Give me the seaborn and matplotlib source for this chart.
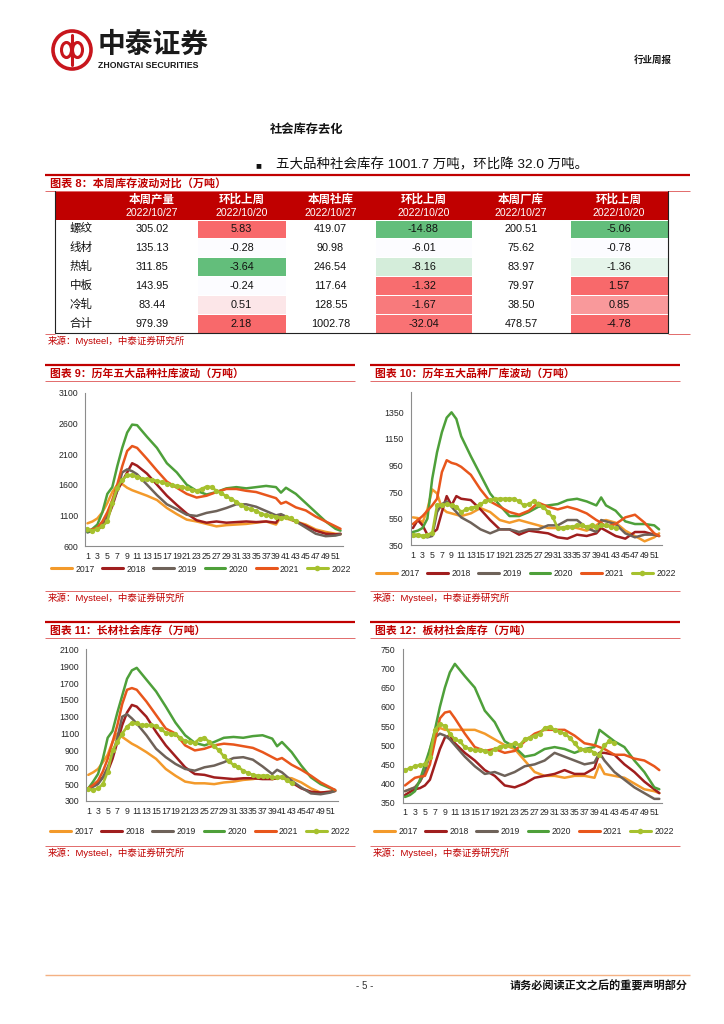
import matplotlib
matplotlib.use('Agg')
import matplotlib.pyplot as plt
from matplotlib.patches import Rectangle, Circle, Ellipse
from matplotlib.lines import Line2D
import seaborn as sns
import pandas as pd

W, H = 724, 1024
RED = '#C00000'
THIN_RED = '#E26B6B'

# ---------------- data ----------------
years = ['2017', '2018', '2019', '2020', '2021', '2022']
line_colors = ['#F39A2B', '#A01E1E', '#6E6259', '#4EA03A', '#E8561C', '#A6C12E']

# weeks read for the history years, and weeks of 2022 so far
hist_weeks = [1, 2, 3, 4, 5, 6, 7, 8, 9, 10, 11, 13, 15, 17, 19, 21, 23, 25, 27,
              29, 31, 33, 35, 37, 39, 40, 41, 43, 45, 47, 49, 51, 52]
weeks_2022 = list(range(1, 44))

# chart 9: social inventory of five products
soc_2017 = [970, 1000, 1050, 1150, 1300, 1480, 1600, 1610, 1550, 1510, 1480, 1420, 1350, 1220, 1120, 1030, 1000,
            960, 920, 940, 950, 960, 980, 1000, 950, 1080, 1050, 1000, 950, 870, 830, 800, 790]
soc_2018 = [850, 860, 870, 920, 1050, 1250, 1500, 1650, 1800, 1950, 1910, 1780, 1600, 1420, 1270, 1130, 1020,
            980, 1000, 980, 990, 1000, 990, 1000, 980, 1100, 1080, 1000, 930, 850, 800, 790, 800]
soc_2019 = [820, 850, 900, 980, 1100, 1300, 1500, 1800, 1850, 1820, 1770, 1600, 1430, 1280, 1200, 1110, 1090,
            1140, 1170, 1220, 1280, 1280, 1240, 1170, 1100, 1120, 1080, 1000, 900, 800, 760, 770, 790]
soc_2020 = [830, 880, 950, 1150, 1450, 1560, 1900, 2200, 2450, 2580, 2570, 2380, 2200, 1950, 1800, 1600, 1500,
            1440, 1480, 1540, 1560, 1540, 1560, 1580, 1560, 1470, 1550, 1450, 1300, 1150, 1000, 880, 850]
soc_2021 = [850, 870, 900, 1000, 1150, 1350, 1600, 1900, 2150, 2230, 2200, 2020, 1830, 1650, 1550, 1450, 1390,
            1420, 1480, 1530, 1530, 1500, 1480, 1430, 1380, 1290, 1320, 1230, 1180, 1080, 1000, 920, 880]
soc_2022 = [870, 850, 880, 920, 1000, 1300, 1550, 1680, 1750, 1760, 1720, 1700, 1690, 1680, 1660, 1640, 1610,
            1590, 1580, 1570, 1540, 1510, 1500, 1530, 1570, 1560, 1500, 1460, 1410, 1370, 1320, 1270, 1220,
            1200, 1170, 1130, 1100, 1090, 1080, 1060, 1070, 1050, 1000]

# chart 10: factory inventory of five products
fac_2017 = [560, 555, 520, 620, 770, 740, 630, 600, 590, 580, 570, 590, 630, 600, 540, 520, 540,
            520, 500, 480, 480, 490, 480, 460, 500, 530, 540, 520, 460, 420, 380, 410, 440]
fac_2018 = [480, 540, 500, 430, 440, 470, 600, 720, 650, 720, 700, 690, 620, 540, 470, 470, 430,
            460, 450, 440, 410, 400, 430, 420, 440, 480, 460, 420, 400, 450, 450, 430, 420]
fac_2019 = [420, 420, 420, 410, 420, 600, 660, 680, 640, 600, 560, 520, 470, 440, 470, 470, 450,
            470, 470, 500, 500, 540, 540, 480, 450, 540, 530, 510, 440, 410, 430, 430, 420]
fac_2020 = [450, 460, 480, 550, 850, 1050, 1200, 1310, 1350, 1300, 1170, 1020, 880, 740, 650, 570, 570,
            600, 640, 650, 660, 690, 700, 680, 650, 710, 650, 610, 530, 510, 510, 500, 470]
fac_2021 = [510, 540, 570, 610, 650, 700, 900, 990, 970, 960, 940, 880, 770, 680, 640, 600, 580,
            610, 670, 640, 620, 640, 620, 590, 540, 520, 490, 510, 560, 580, 520, 440, 420]
fac_2022 = [430, 430, 420, 430, 440, 650, 650, 660, 650, 640, 600, 620, 630, 640, 660, 680, 690,
            700, 700, 700, 700, 700, 680, 650, 660, 680, 660, 640, 600, 560, 480, 480, 490,
            490, 500, 500, 490, 500, 490, 500, 500, 490, 480]

# chart 11: long products social inventory
long_2017 = [610, 640, 680, 760, 850, 1000, 1100, 1060, 1020, 980, 950, 880, 800, 680, 600, 530, 510,
             510, 500, 520, 530, 550, 560, 580, 560, 570, 580, 570, 520, 450, 400, 410, 420]
long_2018 = [450, 480, 520, 580, 650, 800, 1000, 1200, 1350, 1440, 1420, 1300, 1120, 960, 830, 700, 620,
             610, 580, 570, 560, 570, 570, 560, 560, 570, 580, 520, 450, 410, 400, 410, 420]
long_2019 = [440, 470, 500, 580, 700, 850, 1050, 1300, 1330, 1280, 1220, 1080, 920, 820, 740, 680, 660,
             700, 720, 760, 810, 820, 790, 710, 620, 670, 640, 540, 460, 390, 380, 400, 420]
long_2020 = [450, 530, 620, 800, 1050, 1130, 1350, 1550, 1750, 1850, 1880, 1740, 1600, 1420, 1230, 1080, 990,
             960, 1000, 1050, 1060, 1050, 1070, 1080, 1040, 950, 1000, 880, 720, 580, 500, 450, 430]
long_2021 = [450, 490, 540, 650, 800, 1000, 1200, 1450, 1620, 1640, 1620, 1480, 1320, 1160, 1100, 960, 900,
             920, 960, 980, 970, 950, 930, 880, 820, 790, 810, 730, 670, 600, 520, 460, 430]
long_2022 = [440, 430, 450, 500, 650, 900, 1000, 1100, 1180, 1230, 1220, 1200, 1200, 1200, 1190, 1150, 1110,
             1100, 1090, 1050, 1010, 1000, 990, 1040, 1050, 1000, 950, 900, 830, 770, 730, 700, 660,
             630, 610, 600, 600, 600, 580, 580, 590, 550, 510]

# chart 12: plate social inventory
plate_2017 = [380, 385, 390, 405, 430, 490, 530, 545, 540, 540, 540, 540, 540, 530, 515, 500, 490,
              460, 430, 420, 420, 415, 420, 420, 415, 450, 425, 420, 415, 400, 385, 380, 375]
plate_2018 = [370, 378, 385, 388, 395, 410, 450, 490, 520, 525, 505, 480, 460, 435, 420, 395, 390,
              400, 415, 420, 425, 435, 425, 425, 440, 480, 480, 475, 450, 430, 405, 385, 375]
plate_2019 = [380, 385, 390, 405, 430, 480, 520, 530, 525, 515, 500, 470, 445, 425, 430, 420, 430,
              445, 450, 460, 480, 470, 460, 450, 455, 480, 460, 430, 410, 390, 375, 360, 360]
plate_2020 = [365, 370, 380, 410, 450, 490, 540, 600, 650, 690, 712, 680, 650, 590, 560, 510, 495,
              470, 475, 490, 495, 490, 480, 490, 495, 540, 530, 510, 495, 460, 430, 390, 385]
plate_2021 = [395, 405, 415, 418, 420, 450, 510, 570, 585, 588, 570, 530, 495, 485, 490, 480, 485,
              510, 530, 540, 540, 540, 525, 505, 500, 495, 490, 475, 475, 465, 460, 445, 435]
plate_2022 = [435, 440, 445, 448, 450, 470, 540, 555, 550, 530, 515, 510, 495, 490, 487, 487, 485,
              480, 490, 495, 498, 500, 505, 500, 515, 520, 525, 530, 545, 548, 540, 535, 530,
              520, 505, 490, 488, 488, 480, 475, 500, 510, 505]

# table 8
row_names = ['螺纹', '线材', '热轧', '中板', '冷轧', '合计']
col_heads = ['本周产量', '环比上周', '本周社库', '环比上周', '本周厂库', '环比上周']
col_dates = ['2022/10/27', '2022/10/20', '2022/10/27', '2022/10/20', '2022/10/27', '2022/10/20']
output_wk = ['305.02', '135.13', '311.85', '143.95', '83.44', '979.39']
output_chg = ['5.83', '-0.28', '-3.64', '-0.24', '0.51', '2.18']
social_wk = ['419.07', '90.98', '246.54', '117.64', '128.55', '1002.78']
social_chg = ['-14.88', '-6.01', '-8.16', '-1.32', '-1.67', '-32.04']
factory_wk = ['200.51', '75.62', '83.97', '79.97', '38.50', '478.57']
factory_chg = ['-5.06', '-0.78', '-1.36', '1.57', '0.85', '-4.78']
# conditional-format fills of the three change columns
chg_fills = [
    ['#F8696B', '#FCFCFF', '#63BE7B', '#FCFCFF', '#FCE6E8', '#F8696B'],
    ['#63BE7B', '#FCFCFF', '#D4EDDA', '#F86D6F', '#F87A7C', '#F97274'],
    ['#63BE7B', '#FCFCFF', '#E5F4EA', '#F8696B', '#F9999B', '#F8696B'],
]


def build_frame(hist, current):
    rows = []
    for year, vals in zip(years[:5], hist):
        for w, v in zip(hist_weeks, vals):
            rows.append((w, v, year))
    for w, v in zip(weeks_2022, current):
        rows.append((w, v, '2022'))
    return pd.DataFrame(rows, columns=['week', 'value', 'year'])


sns.set_style('white')
plt.rcParams['font.family'] = ['Liberation Sans', 'Noto Sans CJK SC', 'DejaVu Sans']
plt.rcParams['axes.unicode_minus'] = False

fig = plt.figure(figsize=(W / 100, H / 100), dpi=100)
page = fig.add_axes([0, 0, 1, 1])
page.set_xlim(0, W)
page.set_ylim(H, 0)
page.axis('off')


def hline(y, x0, x1, color, lw):
    page.plot([x0, x1], [y, y], color=color, lw=lw, solid_capstyle='butt')


# header: logo and report type
page.add_patch(Circle((72, 50), 19, fill=False, ec='#C8161D', lw=2.6))
page.add_patch(Ellipse((66.5, 50), 10, 15, fill=False, ec='#C8161D', lw=2.2))
page.add_patch(Ellipse((77.5, 50), 10, 15, fill=False, ec='#C8161D', lw=2.2))
page.plot([72, 72], [35, 65], color='#C8161D', lw=2.2)
page.text(98, 46, '中泰证券', fontsize=20, fontweight='bold', color='#1A1A1A', va='center', ha='left')
page.text(98, 65, 'ZHONGTAI SECURITIES', fontsize=6.3, fontweight='bold', color='#1A1A1A', va='center', ha='left')
page.text(672, 60, '行业周报', fontsize=6.8, fontweight='bold', color='#1A1A1A', va='center', ha='right')

page.text(270, 130, '社会库存去化', fontsize=8.8, fontweight='bold', color='#111111', va='center')
page.text(255, 165, '■', fontsize=7, color='#111111', va='center')
page.text(276, 165, '五大品种社会库存 1001.7 万吨，环比降 32.0 万吨。', fontsize=9.7, color='#111111', va='center')

# table block
hline(175, 45, 690, RED, 1.6)
page.text(50, 183, '图表 8：本周库存波动对比（万吨）', fontsize=8, fontweight='bold', color=RED, va='center')
hline(190.5, 45, 690, THIN_RED, 0.7)

col_edges = [55, 107, 197, 286, 375, 472, 570, 668]
hdr_top, hdr_bot, tab_bot = 191, 220, 333.3
row_h = (tab_bot - hdr_bot) / len(row_names)
page.add_patch(Rectangle((col_edges[0], hdr_top), col_edges[-1] - col_edges[0], hdr_bot - hdr_top,
                         color=RED, lw=0))
for i in range(6):
    cx = (col_edges[i + 1] + col_edges[i + 2]) / 2
    page.text(cx, 199.5, col_heads[i], fontsize=8.3, fontweight='bold', color='white', ha='center', va='center')
    page.text(cx, 213.5, col_dates[i], fontsize=7.6, color='white', ha='center', va='center')

columns = [output_wk, output_chg, social_wk, social_chg, factory_wk, factory_chg]
for r, name in enumerate(row_names):
    y0 = hdr_bot + r * row_h
    cy = y0 + row_h / 2
    page.text(81, cy, name, fontsize=8.3, color='#111111', ha='center', va='center')
    for c in range(6):
        x0, x1 = col_edges[c + 1], col_edges[c + 2]
        if c % 2 == 1:
            page.add_patch(Rectangle((x0 + 0.5, y0 + 0.6), x1 - x0 - 1, row_h - 1.2,
                                     color=chg_fills[c // 2][r], lw=0))
        page.text((x0 + x1) / 2, cy, columns[c][r], fontsize=7.8, color='#111111', ha='center', va='center')

page.plot([55, 55], [hdr_top, tab_bot], color='#222222', lw=0.8)
page.plot([668, 668], [hdr_top, tab_bot], color='#222222', lw=0.8)
hline(tab_bot, 55, 668, '#222222', 0.8)
hline(tab_bot + 0.8, 668, 690, THIN_RED, 0.7)
hline(tab_bot + 0.8, 45, 55, THIN_RED, 0.7)
page.text(48, 341, '来源：Mysteel，中泰证券研究所', fontsize=6.8, color=RED, va='center')

# chart blocks frames
blocks = [
    (45, 355, 365, '图表 9：历年五大品种社库波动（万吨）', 591),
    (370, 680, 365, '图表 10：历年五大品种厂库波动（万吨）', 591),
    (45, 355, 622, '图表 11：长材社会库存（万吨）', 846),
    (370, 680, 622, '图表 12：板材社会库存（万吨）', 846),
]
for x0, x1, top, title, bot in blocks:
    hline(top, x0, x1, RED, 1.6)
    page.text(x0 + 5, top + 9, title, fontsize=7.8, fontweight='bold', color=RED, va='center')
    hline(top + 16, x0, x1, THIN_RED, 0.7)
    hline(bot, x0, x1, THIN_RED, 0.7)
    page.text(x0 + 3, bot + 7, '来源：Mysteel，中泰证券研究所', fontsize=6.8, color=RED, va='center')

# footer
hline(975, 45, 690, '#F4B183', 1.0)
page.text(365, 986, '- 5 -', fontsize=7, color='#333333', ha='center', va='center')
page.text(688, 986, '请务必阅读正文之后的重要声明部分', fontsize=8, fontweight='bold', color='#111111',
          ha='right', va='center')

palette_hist = dict(zip(years[:5], line_colors[:5]))
legend_handles = [Line2D([], [], color=c, lw=2.2) for c in line_colors[:5]]
legend_handles.append(Line2D([], [], color=line_colors[5], lw=2.2, marker='o', markersize=4,
                             markeredgewidth=0))


def draw_chart(rect, hist, current, ylim, yticks, legend_at):
    l, t, r, b = rect
    ax = fig.add_axes([l / W, 1 - b / H, (r - l) / W, (b - t) / H])
    ax.patch.set_alpha(0)
    df = build_frame(hist, current)
    sns.lineplot(data=df[df['year'] != '2022'], x='week', y='value', hue='year', palette=palette_hist,
                 linewidth=1.8, errorbar=None, legend=False, ax=ax)
    sns.lineplot(data=df[df['year'] == '2022'], x='week', y='value', color=line_colors[5], linewidth=1.9,
                 marker='o', markersize=3.8, markeredgewidth=0, errorbar=None, legend=False, ax=ax)
    ax.set_xlim(0.5, 52.5)
    ax.set_ylim(*ylim)
    ax.set_yticks(yticks)
    ax.set_xticks(range(1, 52, 2))
    ax.set_xlabel('')
    ax.set_ylabel('')
    for side in ['top', 'right']:
        ax.spines[side].set_visible(False)
    for side in ['left', 'bottom']:
        ax.spines[side].set_color('#8C8C8C')
        ax.spines[side].set_linewidth(0.8)
    ax.tick_params(axis='both', labelsize=6.3, colors='#8C8C8C', labelcolor='#262626', length=2, width=0.6)
    ax.tick_params(axis='y', pad=3)
    ax.tick_params(axis='x', pad=2)
    fig.legend(legend_handles, years, loc='center', bbox_to_anchor=(legend_at[0] / W, 1 - legend_at[1] / H),
               ncol=6, frameon=False, fontsize=6.2, handlelength=2.4, handletextpad=0.4, columnspacing=0.9)


draw_chart((85, 392.7, 343, 546), [soc_2017, soc_2018, soc_2019, soc_2020, soc_2021], soc_2022,
           (600, 3100), range(600, 3101, 500), (201, 569))
draw_chart((410.5, 392.4, 661.5, 545.3), [fac_2017, fac_2018, fac_2019, fac_2020, fac_2021], fac_2022,
           (350, 1500), range(350, 1351, 200), (526, 574))
draw_chart((85.9, 649.3, 337.6, 801), [long_2017, long_2018, long_2019, long_2020, long_2021], long_2022,
           (300, 2100), range(300, 2101, 200), (200, 832))
draw_chart((402.5, 649.3, 661.8, 802.7), [plate_2017, plate_2018, plate_2019, plate_2020, plate_2021],
           plate_2022, (350, 750), range(350, 751, 50), (524, 832))

fig.savefig('out.png', dpi=100)
